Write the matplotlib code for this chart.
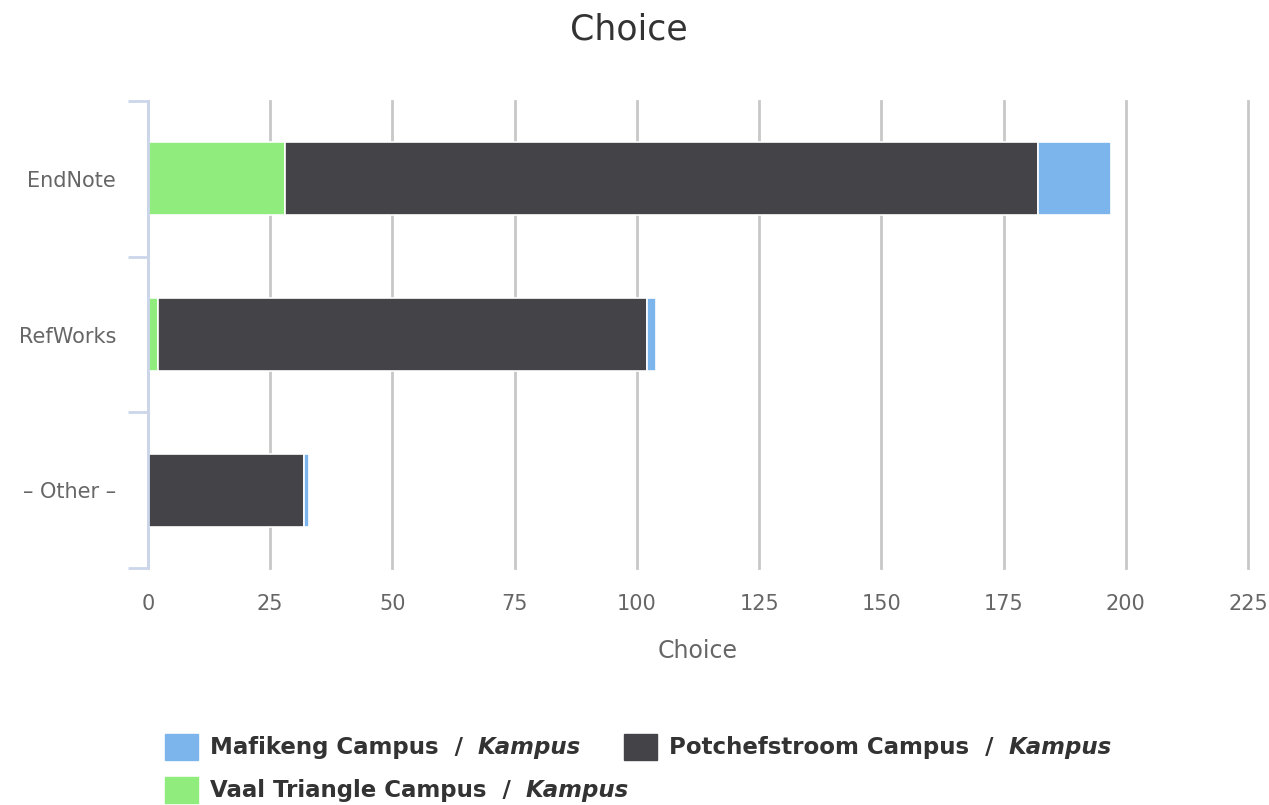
import matplotlib.pyplot as plt
from matplotlib.patches import Rectangle
import numpy as np

# data
categories = ["EndNote", "RefWorks", "\u2013 Other \u2013"]
vaal = [28, 2, 0]
potch = [154, 100, 32]
mafikeng = [15, 2, 1]
xticks = [0, 25, 50, 75, 100, 125, 150, 175, 200, 225]

c_vaal = "#90ed7d"
c_potch = "#434348"
c_maf = "#7cb5ec"
text_col = "#666666"

fig = plt.figure(figsize=(12.69, 8.05), dpi=100)
ax = fig.add_axes([148 / 1269, 1 - 568 / 805, 1100 / 1269, 467 / 805])

y = np.arange(len(categories))
h = 0.47
left = np.zeros(len(categories))
for vals, col in [(vaal, c_vaal), (potch, c_potch), (mafikeng, c_maf)]:
    vals = np.array(vals, dtype=float)
    ax.barh(y, vals, left=left, height=h, color=col, edgecolor="white",
            linewidth=1.2, zorder=3)
    left += vals

ax.set_xlim(0, 225)
ax.set_ylim(len(categories) - 0.5, -0.5)
ax.set_xticks(xticks)
ax.set_yticks(y)
ax.set_yticklabels(categories)
ax.xaxis.grid(True, color="#c8c8c8", linewidth=2, zorder=0)
ax.set_axisbelow(True)
for gl in ax.get_xgridlines():
    gl.set_clip_on(False)

for s in ["top", "right", "bottom"]:
    ax.spines[s].set_visible(False)
ax.spines["left"].set_color("#ccd6eb")
ax.spines["left"].set_linewidth(2)
ax.spines["left"].set_zorder(4)

ax.tick_params(axis="x", length=0, pad=19, labelsize=15, labelcolor=text_col)
ax.tick_params(axis="y", length=0, pad=23, labelsize=15, labelcolor=text_col)
# category boundary ticks on the left axis
ax.set_yticks(np.arange(-0.5, len(categories)), minor=True)
ax.tick_params(axis="y", which="minor", length=14.5, width=2, color="#ccd6eb")

ax.set_xlabel("Choice", fontsize=17, color=text_col, labelpad=18)
fig.text(629 / 1269, 1 - 30 / 805, "Choice", fontsize=25, color="#333333",
         ha="center", va="center")

# legend built by hand: bold name + bold italic "Kampus"
legend_items = [
    ("Mafikeng Campus  / ", c_maf, 165, 747),
    ("Potchefstroom Campus  / ", c_potch, 624, 747),
    ("Vaal Triangle Campus  / ", c_vaal, 165, 790),
]
fig.canvas.draw()
renderer = fig.canvas.get_renderer()
for name, col, px, py in legend_items:
    fig.patches.append(Rectangle((px / 1269, 1 - (py + 13) / 805), 33 / 1269, 26 / 805,
                                 transform=fig.transFigure, color=col))
    t = fig.text((px + 45) / 1269, 1 - py / 805, name.rstrip(), fontsize=16.5,
                 fontweight="bold", color="#333333", va="center")
    bb = t.get_window_extent(renderer)
    fig.text((bb.x1 + 15) / 1269, 1 - py / 805, "Kampus", fontsize=16.5,
             fontweight="bold", fontstyle="italic", color="#333333", va="center")

fig.savefig("out.png", dpi=100)
